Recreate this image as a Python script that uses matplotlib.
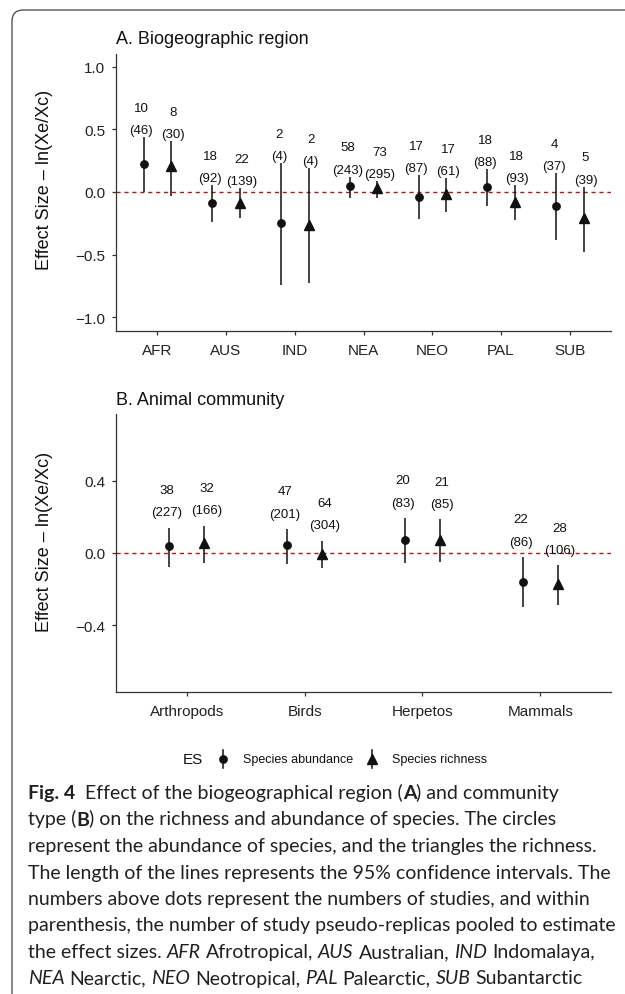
import numpy as np
import matplotlib
matplotlib.use("Agg")
import matplotlib.pyplot as plt
from matplotlib.path import Path
from matplotlib.patches import PathPatch

# ---- panel A: biogeographic region ----
regions = ["AFR", "AUS", "IND", "NEA", "NEO", "PAL", "SUB"]
reg_abund = [0.225, -0.085, -0.25, 0.045, -0.04, 0.035, -0.115]
reg_abund_lo = [0.0, -0.238, -0.741, -0.045, -0.217, -0.11, -0.381]
reg_abund_hi = [0.44, 0.053, 0.228, 0.122, 0.135, 0.18, 0.148]
reg_rich = [0.205, -0.085, -0.262, 0.03, -0.013, -0.077, -0.21]
reg_rich_lo = [-0.032, -0.212, -0.725, -0.05, -0.164, -0.222, -0.481]
reg_rich_hi = [0.405, 0.029, 0.193, 0.087, 0.108, 0.053, 0.042]
reg_abund_n = [10, 18, 2, 58, 17, 18, 4]
reg_abund_k = [46, 92, 4, 243, 87, 88, 37]
reg_rich_n = [8, 22, 2, 73, 17, 18, 5]
reg_rich_k = [30, 139, 4, 295, 61, 93, 39]

# ---- panel B: animal community ----
communities = ["Arthropods", "Birds", "Herpetos", "Mammals"]
com_abund = [0.037, 0.042, 0.072, -0.163]
com_abund_lo = [-0.08, -0.062, -0.053, -0.30]
com_abund_hi = [0.14, 0.134, 0.195, -0.022]
com_rich = [0.053, -0.007, 0.073, -0.174]
com_rich_lo = [-0.055, -0.083, -0.048, -0.288]
com_rich_hi = [0.152, 0.068, 0.187, -0.068]
com_abund_n = [38, 47, 20, 22]
com_abund_k = [227, 201, 83, 86]
com_rich_n = [32, 64, 21, 28]
com_rich_k = [166, 304, 85, 106]

caption = [
    [("Fig. 4", "b"), ("  Effect of the biogeographical region (", "n"), ("A", "b"), (") and community", "n")],
    [("type (", "n"), ("B", "b"), (") on the richness and abundance of species. The circles", "n")],
    [("represent the abundance of species, and the triangles the richness.", "n")],
    [("The length of the lines represents the 95% confidence intervals. The", "n")],
    [("numbers above dots represent the numbers of studies, and within", "n")],
    [("parenthesis, the number of study pseudo-replicas pooled to estimate", "n")],
    [("the effect sizes. ", "n"), ("AFR", "i"), (" Afrotropical, ", "n"), ("AUS", "i"), (" Australian, ", "n"),
     ("IND", "i"), (" Indomalaya,", "n")],
    [("NEA", "i"), (" Nearctic, ", "n"), ("NEO", "i"), (" Neotropical, ", "n"), ("PAL", "i"), (" Palearctic, ", "n"),
     ("SUB", "i"), (" Subantarctic", "n")],
]

INK = "#111111"
AXC = "#333333"
RED = "#b3191c"
W, H = 625, 995

plt.rcParams["font.family"] = ["Liberation Sans", "DejaVu Sans"]
fig = plt.figure(figsize=(W / 100, H / 100), dpi=100)


def box(left, top, right, bottom):
    return [left / W, 1 - bottom / H, (right - left) / W, (bottom - top) / H]


def draw_panel(ax, cats, series, dodge, off):
    x = np.arange(1, len(cats) + 1)
    ax.axhline(0, color=RED, lw=1.0, ls=(0, (3, 2.7)), zorder=1)
    for (est, lo, hi, n, k, mk, ms), d, nudge in zip(series, (-dodge, dodge), (-1.5, 1.5)):
        xs = x + d
        ax.vlines(xs, lo, hi, color=INK, lw=1.1, zorder=3)
        ax.plot(xs, est, ls="none", marker=mk, ms=ms, color=INK, mec=INK, zorder=4)
        for xi, h, ni, ki in zip(xs, hi, n, k):
            ax.annotate(f"({ki})", (xi, h), xytext=(nudge, off), textcoords="offset points",
                        ha="center", va="center", fontsize=9.5, color=INK)
            ax.annotate(str(ni), (xi, h), xytext=(nudge, off + 16), textcoords="offset points",
                        ha="center", va="center", fontsize=9.5, color=INK)
    ax.set_xticks(x)
    ax.set_xticklabels(cats)
    ax.set_xlim(0.4, len(cats) + 0.6)
    for s in ("top", "right"):
        ax.spines[s].set_visible(False)
    for s in ("left", "bottom"):
        ax.spines[s].set_color(AXC)
        ax.spines[s].set_linewidth(0.9)
    ax.tick_params(direction="out", length=2.9, width=0.9, color=AXC, labelsize=11, labelcolor="#222222")
    ax.tick_params(axis="x", pad=5.5)
    ax.tick_params(axis="y", pad=5)


axA = fig.add_axes(box(116, 55, 611, 332))
draw_panel(axA, regions,
           [(reg_abund, reg_abund_lo, reg_abund_hi, reg_abund_n, reg_abund_k, "o", 5.3),
            (reg_rich, reg_rich_lo, reg_rich_hi, reg_rich_n, reg_rich_k, "^", 6.5)],
           0.2, 5)
axA.set_ylim(-1.11, 1.10)
axA.set_yticks([-1.0, -0.5, 0.0, 0.5, 1.0])
axA.yaxis.set_major_formatter(lambda v, p: f"{v:.1f}".replace("-", "\u2212"))

axB = fig.add_axes(box(116, 415, 611, 693))
draw_panel(axB, communities,
           [(com_abund, com_abund_lo, com_abund_hi, com_abund_n, com_abund_k, "o", 5.3),
            (com_rich, com_rich_lo, com_rich_hi, com_rich_n, com_rich_k, "^", 6.5)],
           0.15, 11)
axB.set_ylim(-0.77, 0.77)
axB.set_yticks([-0.4, 0.0, 0.4])
axB.yaxis.set_major_formatter(lambda v, p: f"{v:.1f}".replace("-", "\u2212"))

# overlay in pixel coordinates for titles, legend, caption and frame
ov = fig.add_axes([0, 0, 1, 1], zorder=5)
ov.set_xlim(0, W)
ov.set_ylim(H, 0)
ov.axis("off")

ov.text(116, 43.5, "A. Biogeographic region", fontsize=13, color=INK, va="baseline")
ov.text(116, 405, "B. Animal community", fontsize=13, color=INK, va="baseline")
ylab = "Effect Size \u2013 ln(Xe/Xc)"
ov.text(45, 180, ylab, fontsize=13, color=INK, rotation=90, ha="center", va="center")
ov.text(45, 542, ylab, fontsize=13, color=INK, rotation=90, ha="center", va="center")

# legend
ov.text(193, 760, "ES", fontsize=11, color=INK, ha="center", va="center")
for gx, mk, ms, lab in [(223, "o", 5.3, "Species abundance"), (372, "^", 6.5, "Species richness")]:
    ov.plot([gx, gx], [751, 769], color=INK, lw=1.1)
    ov.plot([gx], [760], marker=mk, ms=ms, color=INK)
    ov.text(gx + 20, 760, lab, fontsize=9, color=INK, va="center")

# frame
frame = Path([(12, H), (12, 22), (12, 11), (23, 11), (W, 11)],
             [Path.MOVETO, Path.LINETO, Path.CURVE3, Path.CURVE3, Path.LINETO])
ov.add_patch(PathPatch(frame, fill=False, ec="#444444", lw=0.9))

# caption with mixed styles
renderer = fig.canvas.get_renderer()
cap_font = ["Liberation Sans Narrow", "Lato", "DejaVu Sans"]
styles = {"n": dict(weight="normal", style="normal"),
          "b": dict(weight="bold", style="normal"),
          "i": dict(weight="normal", style="italic")}


def text_width(s, size, st):
    t = ov.text(0, 0, s, fontsize=size, family=cap_font, **styles[st])
    w = t.get_window_extent(renderer).width
    t.remove()
    return w


probe = caption[5][0][0]
cap_size = 15 * 589 / text_width(probe, 15, "n")
space = text_width("x x", cap_size, "n") - text_width("xx", cap_size, "n")

for i, line in enumerate(caption):
    x = 28
    y = 799 + 26.5 * i
    for s, st in line:
        x += space * (len(s) - len(s.lstrip(" ")))
        core = s.strip(" ")
        t = ov.text(x, y, core, fontsize=cap_size, family=cap_font, color="#231f20",
                    va="baseline", ha="left", **styles[st])
        x += t.get_window_extent(renderer).width
        x += space * (len(s) - len(s.rstrip(" ")))

fig.savefig("out.png", dpi=100)
